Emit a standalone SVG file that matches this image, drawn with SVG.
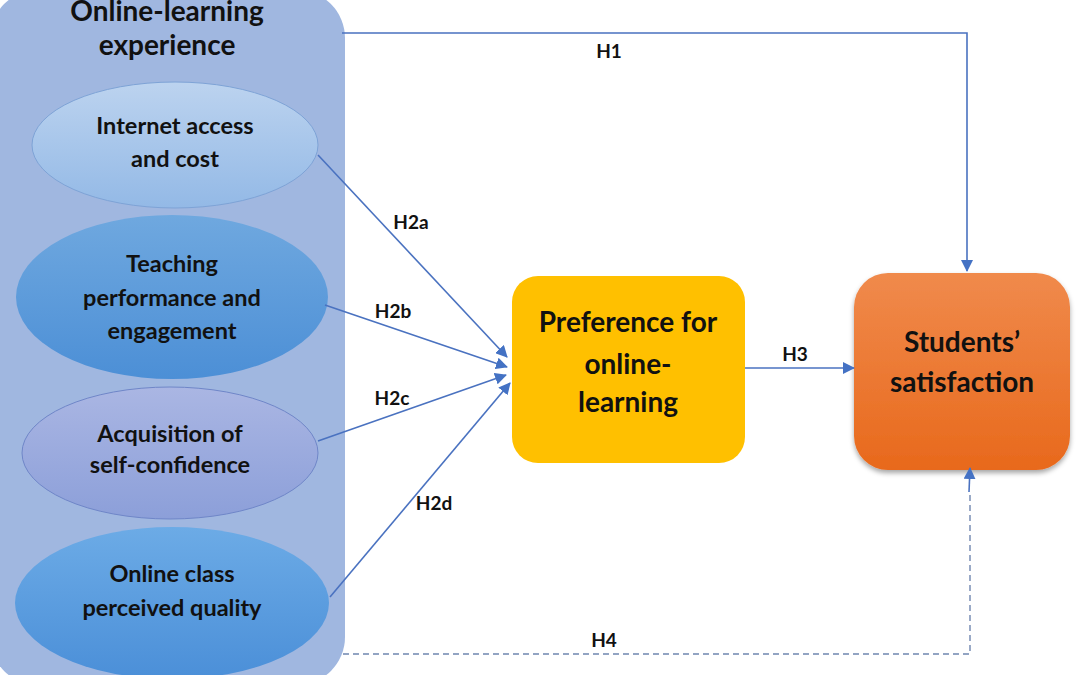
<svg xmlns="http://www.w3.org/2000/svg" width="1080" height="675" viewBox="0 0 1080 675">
<defs>
<linearGradient id="g1" x1="0" y1="0" x2="0" y2="1"><stop offset="0" stop-color="#bcd3ef"/><stop offset="1" stop-color="#93b9e6"/></linearGradient>
<linearGradient id="g2" x1="0" y1="0" x2="0" y2="1"><stop offset="0" stop-color="#6fa8df"/><stop offset="1" stop-color="#4c8fd6"/></linearGradient>
<linearGradient id="g3" x1="0" y1="0" x2="0" y2="1"><stop offset="0" stop-color="#aab6e3"/><stop offset="1" stop-color="#8c9fd9"/></linearGradient>
<linearGradient id="g4" x1="0" y1="0" x2="0" y2="1"><stop offset="0" stop-color="#6cabe6"/><stop offset="1" stop-color="#4b8fd8"/></linearGradient>
<linearGradient id="go" x1="0" y1="0" x2="0" y2="1"><stop offset="0" stop-color="#f08a4c"/><stop offset="1" stop-color="#e8691c"/></linearGradient>
<filter id="sh" x="-10%" y="-10%" width="130%" height="130%"><feDropShadow dx="0" dy="3" stdDeviation="2.5" flood-color="#000" flood-opacity="0.35"/></filter>
<marker id="ar2" viewBox="0 0 12 12" refX="11" refY="6" markerWidth="12" markerHeight="12" markerUnits="userSpaceOnUse" orient="auto"><path d="M0,0 L12,6 L0,12 z" fill="#4472c4"/></marker>
</defs>
<style>
text{font-family:Lato,"Open Sans","Liberation Sans",sans-serif;font-weight:bold;fill:#111;text-anchor:middle}
.t{font-size:28px}
.e{font-size:23.5px}
.b{font-size:28px}
.l{font-size:19px}
.c{fill:none;stroke:#4a72c0;stroke-width:1.6}
.d{fill:none;stroke:#6f86b0;stroke-width:1.4;stroke-dasharray:6 4}
</style>
<rect width="1080" height="675" fill="#fff"/>
<g id="online-learning-experience">
<rect x="-10" y="-10" width="355" height="695" rx="48" fill="#a0b7e0"/>
<text class="t" x="167" y="21">Online-learning</text>
<text class="t" x="167" y="55">experience</text>
</g>
<g id="internet-access">
<ellipse cx="175" cy="145" rx="143" ry="63" fill="url(#g1)" stroke="#7ea3d6" stroke-width="1"/>
<text class="e" x="175" y="134">Internet access</text>
<text class="e" x="175" y="167">and cost</text>
</g>
<g id="teaching">
<ellipse cx="172" cy="297" rx="156" ry="82" fill="url(#g2)"/>
<text class="e" x="172" y="272">Teaching</text>
<text class="e" x="172" y="306">performance and</text>
<text class="e" x="172" y="339">engagement</text>
</g>
<g id="acquisition">
<ellipse cx="170" cy="453" rx="148" ry="66" fill="url(#g3)" stroke="#6f86c8" stroke-width="1"/>
<text class="e" x="170" y="442">Acquisition of</text>
<text class="e" x="170" y="473">self-confidence</text>
</g>
<g id="online-class">
<ellipse cx="172" cy="603" rx="157" ry="76" fill="url(#g4)"/>
<text class="e" x="172" y="582">Online class</text>
<text class="e" x="172" y="616">perceived quality</text>
</g>
<g id="preference">
<rect x="512" y="276" width="233" height="187" rx="26" fill="#ffc000"/>
<text class="b" x="628" y="332">Preference for</text>
<text class="b" x="628" y="374">online-</text>
<text class="b" x="628" y="412">learning</text>
</g>
<g id="satisfaction">
<rect x="854" y="273" width="216" height="197" rx="34" fill="url(#go)" filter="url(#sh)"/>
<text class="b" x="962" y="352">Students’</text>
<text class="b" x="962" y="392">satisfaction</text>
</g>
<g id="connectors">
<polyline class="c" points="342,33 967,33 967,271" marker-end="url(#ar2)"/>
<line class="c" x1="745" y1="368" x2="854" y2="368" marker-end="url(#ar2)"/>
<line class="c" x1="318" y1="155" x2="507" y2="357" marker-end="url(#ar2)"/>
<line class="c" x1="325" y1="305" x2="507" y2="367" marker-end="url(#ar2)"/>
<line class="c" x1="318" y1="441" x2="506" y2="375" marker-end="url(#ar2)"/>
<line class="c" x1="330" y1="597" x2="510" y2="383" marker-end="url(#ar2)"/>
<polyline class="d" points="343,654 970,654 970,492"/>
<line class="c" x1="969" y1="492" x2="970" y2="468" marker-end="url(#ar2)"/>
<text class="l" x="609" y="58">H1</text>
<text class="l" x="411" y="229">H2a</text>
<text class="l" x="393" y="318">H2b</text>
<text class="l" x="392" y="405">H2c</text>
<text class="l" x="434" y="510">H2d</text>
<text class="l" x="795" y="361">H3</text>
<text class="l" x="604" y="647">H4</text>
</g>
</svg>
